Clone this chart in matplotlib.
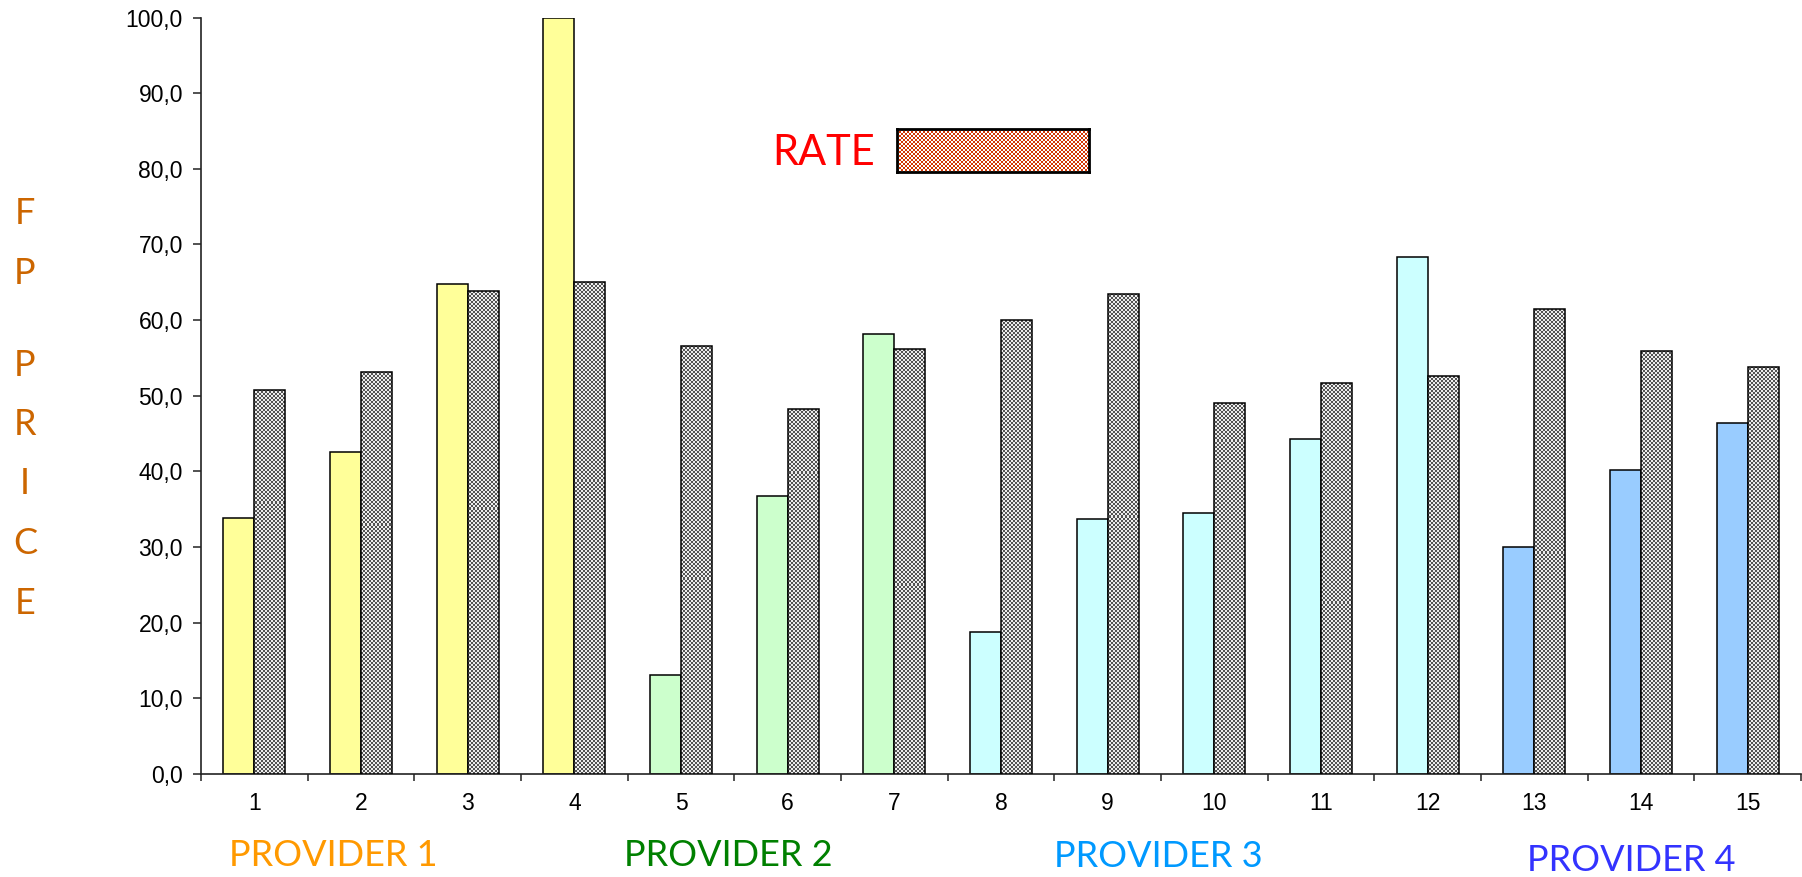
"""FP price vs rate per offer, grouped by provider"""

import matplotlib
matplotlib.use("Agg")
import matplotlib.pyplot as plt
import numpy as np

# offers 1..15
categories = [str(i) for i in range(1, 16)]
fp_price = [33.8, 42.5, 64.8, 100.0, 13.1, 36.8, 58.1, 18.8,
            33.7, 34.5, 44.3, 68.3, 30.0, 40.2, 46.4]
rate = [50.7, 53.2, 63.9, 65.1, 56.6, 48.2, 56.2, 60.0,
        63.5, 49.0, 51.7, 52.6, 61.5, 55.9, 53.8]
provider_of_offer = [1, 1, 1, 1, 2, 2, 2, 3, 3, 3, 3, 3, 4, 4, 4]

provider_fill = {1: "#FFFF99", 2: "#CCFFCC", 3: "#CCFFFF", 4: "#99CCFF"}
provider_names = ["PROVIDER 1", "PROVIDER 2", "PROVIDER 3", "PROVIDER 4"]
provider_colors = ["#FF9900", "#008000", "#0099FF", "#3333FF"]
provider_x = [0.185, 0.404, 0.643, 0.905]
provider_y = [0.024, 0.024, 0.023, 0.019]

y_ticks = list(range(0, 101, 10))

W, H, DPI = 1802, 877, 100
label_font = "Lato"
tick_font = "Liberation Sans"


def checker(h, w, dark, light, cell=2):
    """checkerboard texture, one texel per screen pixel"""
    ii, jj = np.mgrid[0:h, 0:w]
    mask = ((ii // cell + jj // cell) % 2).astype(bool)
    img = np.empty((h, w, 3))
    img[mask] = light
    img[~mask] = dark
    return img


fig = plt.figure(figsize=(W / DPI, H / DPI), dpi=DPI)
ax = fig.add_axes([201 / W, 1 - 774 / H, (1801 - 201) / W, (774 - 17.5) / H])

x = np.arange(len(categories))
bw = 0.29
ax.bar(x - bw / 2, fp_price, bw,
       color=[provider_fill[p] for p in provider_of_offer],
       edgecolor="black", linewidth=1.1, zorder=2)
rate_bars = ax.bar(x + bw / 2, rate, bw, facecolor="none",
                   edgecolor="black", linewidth=1.1, zorder=4)

ax.set_xlim(-0.5, len(categories) - 0.5)
ax.set_ylim(0, 100)

# checkered fill for the rate bars, clipped to each bar
ext = ax.get_window_extent()
tex = checker(int(round(ext.height)), int(round(ext.width)),
              (0.33, 0.33, 0.33), (0.93, 0.93, 0.93))
for b in rate_bars:
    im = ax.imshow(tex, extent=(-0.5, len(categories) - 0.5, 0, 100),
                   aspect="auto", interpolation="nearest", origin="lower",
                   zorder=3)
    im.set_clip_path(b)
ax.set_xlim(-0.5, len(categories) - 0.5)
ax.set_ylim(0, 100)

# axes styling
for s in ("top", "right"):
    ax.spines[s].set_visible(False)
for s in ("left", "bottom"):
    ax.spines[s].set_linewidth(1.2)
    ax.spines[s].set_color("#222222")

ax.set_yticks(y_ticks)
ax.set_yticklabels([f"{v:.1f}".replace(".", ",") for v in y_ticks],
                   fontfamily=tick_font, fontsize=16.5)
ax.tick_params(axis="y", length=6, width=1.1, pad=7, color="#222222")

ax.set_xticks(np.arange(-0.5, len(categories), 1))
ax.set_xticklabels([])
ax.set_xticks(x, minor=True)
ax.set_xticklabels(categories, minor=True, fontfamily=tick_font, fontsize=16.5)
ax.tick_params(axis="x", which="major", length=5, width=1.1, color="#222222")
ax.tick_params(axis="x", which="minor", length=0, pad=13)

# legend: label plus a red checkered swatch
fig.text(0.457, 0.826, "RATE", color="#FF0000", fontfamily=label_font,
         fontsize=30, ha="center", va="center")
lax = fig.add_axes([897 / W, 1 - 172 / H, 192 / W, 43 / H])
lax.imshow(checker(43, 192, (0.82, 0.22, 0.02), (1.0, 1.0, 1.0)),
           aspect="auto", interpolation="nearest")
lax.set_xticks([])
lax.set_yticks([])
for s in lax.spines.values():
    s.set_linewidth(2)
    s.set_color("black")

# vertical axis title, one letter per line
title_groups = [("FP", 214), ("PRICE", 365)]
pitch = 59.5
for word, top in title_groups:
    for k, ch in enumerate(word):
        fig.text(0.0139, 1 - (top + k * pitch) / H, ch, color="#CC6600",
                 fontfamily=label_font, fontsize=26, ha="center", va="center")

for name, col, px, py in zip(provider_names, provider_colors, provider_x, provider_y):
    fig.text(px, py, name, color=col, fontfamily=label_font, fontsize=26,
             ha="center", va="center")

fig.savefig("out.png", dpi=DPI, facecolor="white")
